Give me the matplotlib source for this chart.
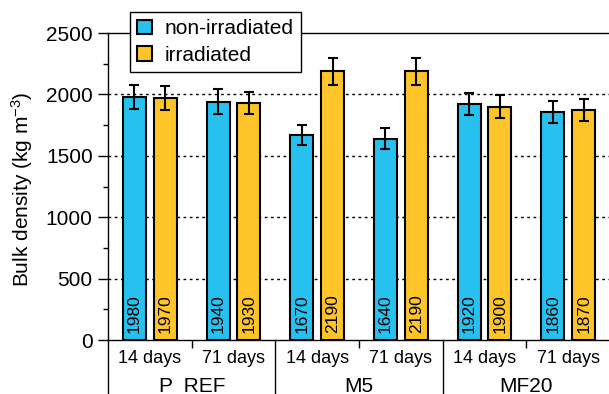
import matplotlib
matplotlib.use("Agg")
import matplotlib.pyplot as plt
import matplotlib.transforms as mtransforms
import numpy as np

plt.rcParams["font.family"] = ["Liberation Sans", "DejaVu Sans"]
plt.rcParams["mathtext.default"] = "regular"

# data
groups = ["P_REF", "M5", "MF20"]
ages = ["14 days", "71 days"]
non_irr = [1980, 1940, 1670, 1640, 1920, 1860]
irr = [1970, 1930, 2190, 2190, 1900, 1870]
non_irr_err = [100, 100, 80, 85, 90, 90]
irr_err = [95, 90, 110, 110, 95, 90]

blue = "#27C1EF"
yellow = "#FDC52A"

fig = plt.figure(figsize=(6.09, 3.94), dpi=100)
ax = fig.add_axes([108/609, 54/394, 502/609, 307/394])

x = np.arange(len(non_irr))
w = 0.275
off = 0.185

ekw = dict(ecolor="black", elinewidth=1.5, capsize=3.5, capthick=1.5)
ax.bar(x - off, non_irr, w, yerr=non_irr_err, color=blue, edgecolor="black",
       linewidth=1.5, error_kw=ekw, label="non-irradiated", zorder=3)
ax.bar(x + off, irr, w, yerr=irr_err, color=yellow, edgecolor="black",
       linewidth=1.5, error_kw=ekw, label="irradiated", zorder=3)

for i in range(len(x)):
    ax.text(x[i] - off, 60, str(non_irr[i]), rotation=90, ha="center",
            va="bottom", fontsize=12.5, zorder=4)
    ax.text(x[i] + off, 60, str(irr[i]), rotation=90, ha="center",
            va="bottom", fontsize=12.5, zorder=4)

ax.set_xlim(-0.5, 5.5)
ax.set_ylim(0, 2500)
ax.set_yticks([0, 500, 1000, 1500, 2000, 2500])
ax.set_yticks(np.arange(250, 2500, 500), minor=True)
ax.tick_params(axis="y", which="major", length=7, width=1, labelsize=15, direction="out", pad=4)
ax.tick_params(axis="y", which="minor", length=3.5, width=1, direction="out")

ax.set_xticks(x)
ax.set_xticklabels(ages * 3, fontsize=13)
ax.set_xticks([0.5, 2.5, 4.5], minor=True)
ax.tick_params(axis="x", which="major", length=0, pad=7)
ax.tick_params(axis="x", which="minor", length=6, width=1, direction="out")

for yv in [500, 1000, 1500, 2000]:
    ax.axhline(yv, color="black", lw=1, ls=(0, (2, 2.5)), zorder=1)

for s in ["left", "top", "bottom"]:
    ax.spines[s].set_linewidth(1)
ax.spines["right"].set_visible(False)

trans = mtransforms.blended_transform_factory(ax.transData, ax.transAxes)
for xs in [-0.5, 1.5, 3.5]:
    ax.plot([xs, xs], [0, -0.25], color="black", lw=1, transform=trans, clip_on=False)
for g, xc in zip(groups, [0.5, 2.5, 4.5]):
    ax.text(xc, -0.122, g, transform=trans, ha="center", va="top", fontsize=15)

ax.set_ylabel("Bulk density (kg m$^{-3}$)", fontsize=15)
ax.yaxis.set_label_coords(-0.145, 0.49)

leg = ax.legend(loc="upper left", bbox_to_anchor=(130/609, 1 - 12/394),
                bbox_transform=fig.transFigure, borderaxespad=0, fontsize=15,
                fancybox=False, framealpha=1, edgecolor="black",
                handlelength=0.7, handleheight=0.7, handletextpad=0.6,
                labelspacing=0.35, borderpad=0.35)
leg.get_frame().set_linewidth(1)
leg.set_zorder(10)

fig.savefig("out.png", dpi=100)
